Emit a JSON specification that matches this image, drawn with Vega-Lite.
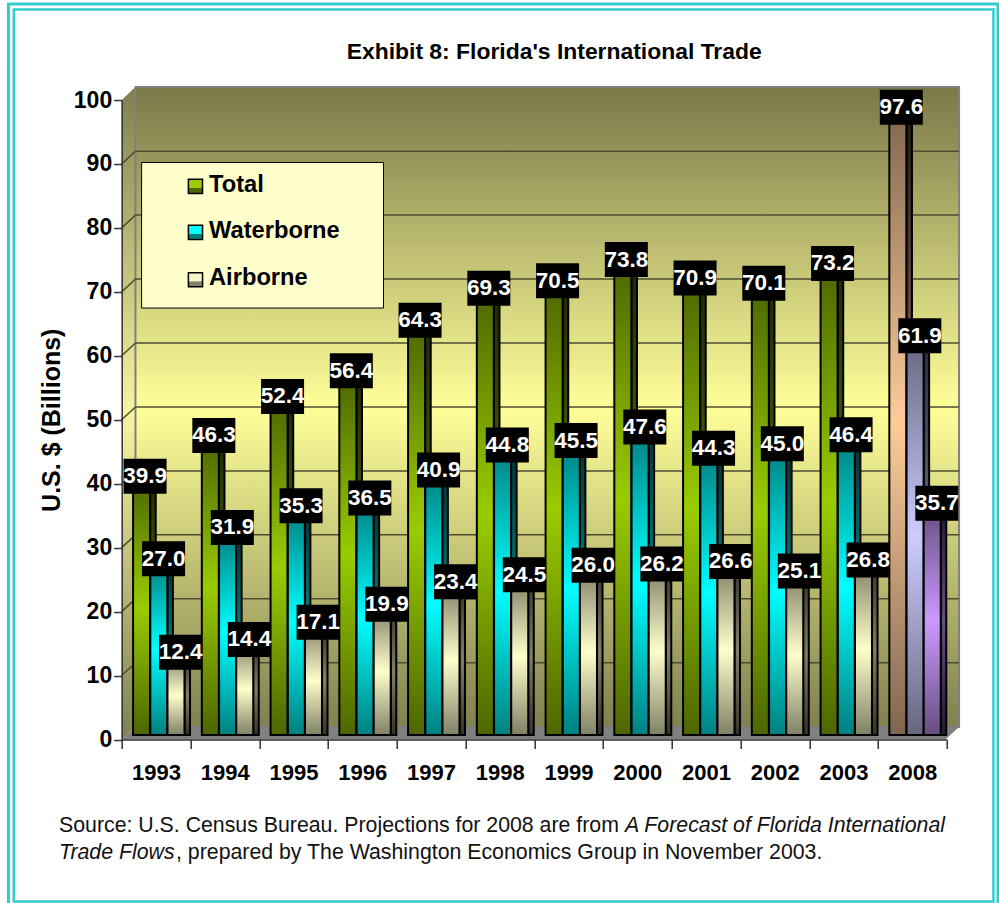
{
"$schema":"https://vega.github.io/schema/vega-lite/v6.json",
"width":825,"height":639.5,
"padding":{"left":121.7,"top":100,"right":52.3,"bottom":163.5},
"autosize":"none",
"background":"white",
"config":{"font":"Liberation Sans","view":{"stroke":null}},
"title":{"text":"Exhibit 8: Florida's International Trade","font":"Liberation Sans","fontSize":22.9,"fontWeight":"bold","color":"black","anchor":"middle","dx":20,"offset":-61,"frame":"group"},
"datasets":{
"trade":[
{"year":"1993","series":"Total","value":39.9},{"year":"1993","series":"Waterborne","value":27.0},{"year":"1993","series":"Airborne","value":12.4},
{"year":"1994","series":"Total","value":46.3},{"year":"1994","series":"Waterborne","value":31.9},{"year":"1994","series":"Airborne","value":14.4},
{"year":"1995","series":"Total","value":52.4},{"year":"1995","series":"Waterborne","value":35.3},{"year":"1995","series":"Airborne","value":17.1},
{"year":"1996","series":"Total","value":56.4},{"year":"1996","series":"Waterborne","value":36.5},{"year":"1996","series":"Airborne","value":19.9},
{"year":"1997","series":"Total","value":64.3},{"year":"1997","series":"Waterborne","value":40.9},{"year":"1997","series":"Airborne","value":23.4},
{"year":"1998","series":"Total","value":69.3},{"year":"1998","series":"Waterborne","value":44.8},{"year":"1998","series":"Airborne","value":24.5},
{"year":"1999","series":"Total","value":70.5},{"year":"1999","series":"Waterborne","value":45.5},{"year":"1999","series":"Airborne","value":26.0},
{"year":"2000","series":"Total","value":73.8},{"year":"2000","series":"Waterborne","value":47.6},{"year":"2000","series":"Airborne","value":26.2},
{"year":"2001","series":"Total","value":70.9},{"year":"2001","series":"Waterborne","value":44.3},{"year":"2001","series":"Airborne","value":26.6},
{"year":"2002","series":"Total","value":70.1},{"year":"2002","series":"Waterborne","value":45.0},{"year":"2002","series":"Airborne","value":25.1},
{"year":"2003","series":"Total","value":73.2},{"year":"2003","series":"Waterborne","value":46.4},{"year":"2003","series":"Airborne","value":26.8},
{"year":"2008","series":"Total","value":97.6},{"year":"2008","series":"Waterborne","value":61.9},{"year":"2008","series":"Airborne","value":35.7}
],
"gridlines":[
{"x":0,"x2":0.2,"y":10,"y2":12},{"x":0,"x2":0.2,"y":20,"y2":22},{"x":0,"x2":0.2,"y":30,"y2":32},{"x":0,"x2":0.2,"y":40,"y2":42},{"x":0,"x2":0.2,"y":50,"y2":52},{"x":0,"x2":0.2,"y":60,"y2":62},{"x":0,"x2":0.2,"y":70,"y2":72},{"x":0,"x2":0.2,"y":80,"y2":82},{"x":0,"x2":0.2,"y":90,"y2":92},
{"x":0.2,"x2":12.18,"y":12,"y2":12},{"x":0.2,"x2":12.18,"y":22,"y2":22},{"x":0.2,"x2":12.18,"y":32,"y2":32},{"x":0.2,"x2":12.18,"y":42,"y2":42},{"x":0.2,"x2":12.18,"y":52,"y2":52},{"x":0.2,"x2":12.18,"y":62,"y2":62},{"x":0.2,"x2":12.18,"y":72,"y2":72},{"x":0.2,"x2":12.18,"y":82,"y2":82},{"x":0.2,"x2":12.18,"y":92,"y2":92}
],
"legendItems":[
{"label":"Total","sx":1.073,"sy":86.5,"tx":1.27,"ty":86.7},
{"label":"Waterborne","sx":1.073,"sy":79.3,"tx":1.27,"ty":79.5},
{"label":"Airborne","sx":1.073,"sy":71.9,"tx":1.27,"ty":72.1}
],
"notes":[
{"x":-0.912,"y":-13.6,"text":"Source: U.S. Census Bureau. Projections for 2008 are from ","style":"normal"},
{"x":7.321,"y":-13.6,"text":"A Forecast of Florida International","style":"italic"},
{"x":-0.912,"y":-17.8,"text":"Trade Flows","style":"italic"},
{"x":0.79,"y":-17.8,"text":", prepared by The Washington Economics Group in November 2003.","style":"normal"}
]
},
"resolve":{"scale":{"x":"independent"},"axis":{"x":"independent"}},
"layer":[
{
"encoding":{
"x":{"field":"x","type":"quantitative","scale":{"domain":[0,12],"nice":false,"zero":false},"axis":null},
"y":{"field":"y","type":"quantitative","scale":{"domain":[0,100],"nice":false},
 "axis":{"title":"U.S. $ (Billions)","titleFont":"Liberation Sans","titleFontSize":25,"titleFontWeight":"bold","titleColor":"black","titlePadding":9,"labelFont":"Liberation Sans","labelFontWeight":"bold","labelFontSize":23,"labelColor":"black","labelPadding":2,"tickSize":8,"tickColor":"#333333","tickWidth":1.5,"domainColor":"#333333","domainWidth":1.5,"grid":false,"values":[0,10,20,30,40,50,60,70,80,90,100],"zindex":1}},
"x2":{"field":"x2"},"y2":{"field":"y2"}
},
"layer":[
{"data":{"values":[{"x":-1.647,"x2":12.746,"y":115.0,"y2":-26.0}]},"mark":{"type":"rect","fill":null,"stroke":"#33CCCC","strokeWidth":3}},
{"data":{"values":[{"x":-1.57,"x2":12.68,"y":114.15,"y2":-25.33}]},"mark":{"type":"rect","fill":null,"stroke":"#33CCCC","strokeWidth":2.5}},
{"data":{"values":[{"x":0,"y":0,"y2":0},{"x":0.2,"y":0,"y2":1.95},{"x":11.98,"y":0,"y2":1.95},{"x":12.18,"y":1.95,"y2":1.95}]},
 "mark":{"type":"area","fill":"#808080"},"encoding":{"x2":null}},
{"data":{"values":[{"x":0,"y":0,"y2":100},{"x":0.2,"y":1.95,"y2":102.03}]},
 "mark":{"type":"area","fill":{"gradient":"linear","x1":0,"y1":0,"x2":0,"y2":1,"stops":[{"offset":0,"color":"#807F4D"},{"offset":0.5,"color":"#F7F7A0"},{"offset":1,"color":"#808050"}]}},"encoding":{"x2":null}},
{"data":{"values":[{"x":0.2,"x2":12.18,"y":1.95,"y2":102.03}]},
 "mark":{"type":"rect","stroke":"#808080","strokeWidth":2,"fill":{"gradient":"linear","x1":0,"y1":0,"x2":0,"y2":1,"stops":[{"offset":0,"color":"#7A7848"},{"offset":0.5,"color":"#FFFF99"},{"offset":1,"color":"#808050"}]}}},
{"data":{"name":"gridlines"},"mark":{"type":"rule","stroke":"#4D4D33","strokeWidth":1.5}},
{"data":{"values":[{"x":0.2895,"x2":3.808,"y":90.23,"y2":67.47}]},"mark":{"type":"rect","fill":"#FFFFCC","stroke":"black","strokeWidth":1}},
{"data":{"name":"legendItems"},"transform":[{"filter":"datum.label=='Total'"}],"mark":{"type":"point","shape":"square","size":200,"filled":true,"stroke":"black","strokeWidth":1.5,"opacity":1,"fill":{"gradient":"linear","x1":0,"y1":0,"x2":0,"y2":1,"stops":[{"offset":0,"color":"#99CC00"},{"offset":0.6,"color":"#99CC00"},{"offset":0.65,"color":"#4D6600"},{"offset":1,"color":"#4D6600"}]}},"encoding":{"x":{"field":"sx","type":"quantitative"},"y":{"field":"sy","type":"quantitative"},"x2":null,"y2":null}},
{"data":{"name":"legendItems"},"transform":[{"filter":"datum.label=='Waterborne'"}],"mark":{"type":"point","shape":"square","size":200,"filled":true,"stroke":"black","strokeWidth":1.5,"opacity":1,"fill":{"gradient":"linear","x1":0,"y1":0,"x2":0,"y2":1,"stops":[{"offset":0,"color":"#00FFFF"},{"offset":0.6,"color":"#00FFFF"},{"offset":0.65,"color":"#008080"},{"offset":1,"color":"#008080"}]}},"encoding":{"x":{"field":"sx","type":"quantitative"},"y":{"field":"sy","type":"quantitative"},"x2":null,"y2":null}},
{"data":{"name":"legendItems"},"transform":[{"filter":"datum.label=='Airborne'"}],"mark":{"type":"point","shape":"square","size":200,"filled":true,"stroke":"black","strokeWidth":1.5,"opacity":1,"fill":{"gradient":"linear","x1":0,"y1":0,"x2":0,"y2":1,"stops":[{"offset":0,"color":"#F5F5C8"},{"offset":0.6,"color":"#F5F5C8"},{"offset":0.65,"color":"#808066"},{"offset":1,"color":"#808066"}]}},"encoding":{"x":{"field":"sx","type":"quantitative"},"y":{"field":"sy","type":"quantitative"},"x2":null,"y2":null}},
{"data":{"name":"legendItems"},"mark":{"type":"text","align":"left","baseline":"middle","font":"Liberation Sans","fontWeight":"bold","fontSize":23.7,"fill":"black"},"encoding":{"x":{"field":"tx","type":"quantitative"},"y":{"field":"ty","type":"quantitative"},"x2":null,"y2":null,"text":{"field":"label"}}},
{"data":{"name":"notes"},"transform":[{"filter":"datum.style=='normal'"}],"mark":{"type":"text","align":"left","baseline":"middle","font":"Liberation Sans","fontSize":21.3,"fill":"#111111"},"encoding":{"x2":null,"y2":null,"text":{"field":"text"}}},
{"data":{"name":"notes"},"transform":[{"filter":"datum.style=='italic'"}],"mark":{"type":"text","align":"left","baseline":"middle","font":"Liberation Sans","fontSize":21.3,"fontStyle":"italic","fill":"#111111"},"encoding":{"x2":null,"y2":null,"text":{"field":"text"}}}
]
},
{
"data":{"name":"trade"},
"encoding":{
"x":{"field":"year","type":"nominal","scale":{"type":"band","paddingInner":0,"paddingOuter":0},
 "axis":{"title":null,"labelAngle":0,"labelFont":"Liberation Sans","labelFontWeight":"bold","labelFontSize":22,"labelColor":"black","labelPadding":14,"tickBand":"extent","tickSize":9,"tickColor":"#333333","tickWidth":1.5,"domainColor":"#333333","domainWidth":1.5,"grid":false,"zindex":1}},
"y":{"field":"value","type":"quantitative","scale":{"domain":[0,100],"nice":false},
 "axis":{"title":"U.S. $ (Billions)","titleFont":"Liberation Sans","titleFontSize":25,"titleFontWeight":"bold","titleColor":"black","titlePadding":9,"labelFont":"Liberation Sans","labelFontWeight":"bold","labelFontSize":23,"labelColor":"black","labelPadding":2,"tickSize":8,"tickColor":"#333333","tickWidth":1.5,"domainColor":"#333333","domainWidth":1.5,"grid":false,"values":[0,10,20,30,40,50,60,70,80,90,100],"zindex":1}}
},
"layer":[
{"transform":[{"filter":"datum.series=='Total' && datum.year!='2008'"}],"mark":{"type":"bar","width":5.5,"xOffset":-3.1,"yOffset":-4.5,"stroke":"black","strokeWidth":2,"fill":{"gradient":"linear","x1":0,"y1":0,"x2":0,"y2":1,"stops":[{"offset":0,"color":"#1F2900"},{"offset":0.5,"color":"#4D6600"},{"offset":1,"color":"#1F2900"}]}}},
{"transform":[{"filter":"datum.series=='Total' && datum.year!='2008'"}],"mark":{"type":"bar","width":17,"xOffset":-14.5,"yOffset":-4.5,"stroke":"black","strokeWidth":2,"fill":{"gradient":"linear","x1":0,"y1":0,"x2":0,"y2":1,"stops":[{"offset":0,"color":"#4D6600"},{"offset":0.5,"color":"#99CC00"},{"offset":1,"color":"#4D6600"}]}}},
{"transform":[{"filter":"datum.series=='Total' && datum.year=='2008'"}],"mark":{"type":"bar","width":5.5,"xOffset":-3.1,"yOffset":-4.5,"stroke":"black","strokeWidth":2,"fill":{"gradient":"linear","x1":0,"y1":0,"x2":0,"y2":1,"stops":[{"offset":0,"color":"#1F1A14"},{"offset":0.5,"color":"#806650"},{"offset":1,"color":"#1F1A14"}]}}},
{"transform":[{"filter":"datum.series=='Total' && datum.year=='2008'"}],"mark":{"type":"bar","width":17,"xOffset":-14.5,"yOffset":-4.5,"stroke":"black","strokeWidth":2,"fill":{"gradient":"linear","x1":0,"y1":0,"x2":0,"y2":1,"stops":[{"offset":0,"color":"#806650"},{"offset":0.5,"color":"#FFCC99"},{"offset":1,"color":"#806650"}]}}},
{"transform":[{"filter":"datum.series=='Waterborne' && datum.year!='2008'"}],"mark":{"type":"bar","width":5.5,"xOffset":14.05,"yOffset":-4.5,"stroke":"black","strokeWidth":2,"fill":{"gradient":"linear","x1":0,"y1":0,"x2":0,"y2":1,"stops":[{"offset":0,"color":"#003333"},{"offset":0.5,"color":"#008080"},{"offset":1,"color":"#003333"}]}}},
{"transform":[{"filter":"datum.series=='Waterborne' && datum.year!='2008'"}],"mark":{"type":"bar","width":17,"xOffset":2.75,"yOffset":-4.5,"stroke":"black","strokeWidth":2,"fill":{"gradient":"linear","x1":0,"y1":0,"x2":0,"y2":1,"stops":[{"offset":0,"color":"#008080"},{"offset":0.5,"color":"#00FFFF"},{"offset":1,"color":"#008080"}]}}},
{"transform":[{"filter":"datum.series=='Waterborne' && datum.year=='2008'"}],"mark":{"type":"bar","width":5.5,"xOffset":14.05,"yOffset":-4.5,"stroke":"black","strokeWidth":2,"fill":{"gradient":"linear","x1":0,"y1":0,"x2":0,"y2":1,"stops":[{"offset":0,"color":"#292933"},{"offset":0.5,"color":"#666680"},{"offset":1,"color":"#292933"}]}}},
{"transform":[{"filter":"datum.series=='Waterborne' && datum.year=='2008'"}],"mark":{"type":"bar","width":17,"xOffset":2.75,"yOffset":-4.5,"stroke":"black","strokeWidth":2,"fill":{"gradient":"linear","x1":0,"y1":0,"x2":0,"y2":1,"stops":[{"offset":0,"color":"#666680"},{"offset":0.5,"color":"#CCCCFF"},{"offset":1,"color":"#666680"}]}}},
{"transform":[{"filter":"datum.series=='Airborne' && datum.year!='2008'"}],"mark":{"type":"bar","width":5.5,"xOffset":31.2,"yOffset":-4.5,"stroke":"black","strokeWidth":2,"fill":{"gradient":"linear","x1":0,"y1":0,"x2":0,"y2":1,"stops":[{"offset":0,"color":"#33332A"},{"offset":0.5,"color":"#808066"},{"offset":1,"color":"#33332A"}]}}},
{"transform":[{"filter":"datum.series=='Airborne' && datum.year!='2008'"}],"mark":{"type":"bar","width":17,"xOffset":19.9,"yOffset":-4.5,"stroke":"black","strokeWidth":2,"fill":{"gradient":"linear","x1":0,"y1":0,"x2":0,"y2":1,"stops":[{"offset":0,"color":"#808066"},{"offset":0.5,"color":"#FFFFCC"},{"offset":1,"color":"#808066"}]}}},
{"transform":[{"filter":"datum.series=='Airborne' && datum.year=='2008'"}],"mark":{"type":"bar","width":5.5,"xOffset":31.2,"yOffset":-4.5,"stroke":"black","strokeWidth":2,"fill":{"gradient":"linear","x1":0,"y1":0,"x2":0,"y2":1,"stops":[{"offset":0,"color":"#1F1A33"},{"offset":0.5,"color":"#664D80"},{"offset":1,"color":"#1F1A33"}]}}},
{"transform":[{"filter":"datum.series=='Airborne' && datum.year=='2008'"}],"mark":{"type":"bar","width":17,"xOffset":19.9,"yOffset":-4.5,"stroke":"black","strokeWidth":2,"fill":{"gradient":"linear","x1":0,"y1":0,"x2":0,"y2":1,"stops":[{"offset":0,"color":"#664D80"},{"offset":0.5,"color":"#CC99FF"},{"offset":1,"color":"#664D80"}]}}},
{"transform":[{"filter":"datum.series=='Total'"}],"mark":{"type":"tick","orient":"horizontal","size":43,"thickness":35,"color":"black","opacity":1,"xOffset":-11,"yOffset":-8}},
{"transform":[{"filter":"datum.series=='Total'"}],"mark":{"type":"text","font":"Liberation Sans","fontWeight":"bold","fontSize":22.5,"fill":"white","baseline":"middle","align":"center","xOffset":-11,"yOffset":-8},"encoding":{"text":{"field":"value","type":"quantitative","format":".1f"}}},
{"transform":[{"filter":"datum.series=='Waterborne'"}],"mark":{"type":"tick","orient":"horizontal","size":43,"thickness":35,"color":"black","opacity":1,"xOffset":7.5,"yOffset":-8}},
{"transform":[{"filter":"datum.series=='Waterborne'"}],"mark":{"type":"text","font":"Liberation Sans","fontWeight":"bold","fontSize":22.5,"fill":"white","baseline":"middle","align":"center","xOffset":7.5,"yOffset":-8},"encoding":{"text":{"field":"value","type":"quantitative","format":".1f"}}},
{"transform":[{"filter":"datum.series=='Airborne'"}],"mark":{"type":"tick","orient":"horizontal","size":43,"thickness":35,"color":"black","opacity":1,"xOffset":24.5,"yOffset":-8}},
{"transform":[{"filter":"datum.series=='Airborne'"}],"mark":{"type":"text","font":"Liberation Sans","fontWeight":"bold","fontSize":22.5,"fill":"white","baseline":"middle","align":"center","xOffset":24.5,"yOffset":-8},"encoding":{"text":{"field":"value","type":"quantitative","format":".1f"}}}
]
}
]
}
